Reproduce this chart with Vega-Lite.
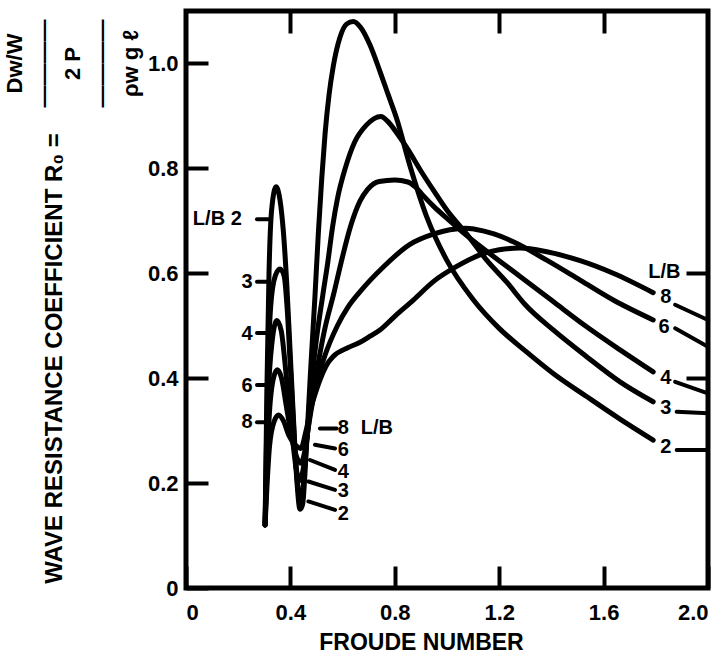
{
  "$schema": "https://vega.github.io/schema/vega-lite/v6.json",
  "width": 522,
  "height": 577,
  "autosize": "none",
  "padding": {"left": 186, "top": 11, "right": 19, "bottom": 71},
  "background": "white",
  "config": {
    "view": {"stroke": "black", "strokeWidth": 5},
    "font": "Liberation Sans",
    "axis": {
      "labelFont": "Liberation Sans", "labelFontWeight": "bold", "labelFontSize": 22, "labelColor": "black",
      "titleFont": "Liberation Sans", "titleFontWeight": "bold", "titleFontSize": 23, "titleColor": "black",
      "domain": false, "grid": false, "tickColor": "black", "tickWidth": 4, "tickSize": -22
    }
  },
  "datasets": {
    "curves": [
      {"LB": "2", "Fr": 0.303, "R": 0.12}, {"LB": "2", "Fr": 0.310, "R": 0.38}, {"LB": "2", "Fr": 0.318, "R": 0.60}, {"LB": "2", "Fr": 0.328, "R": 0.72}, {"LB": "2", "Fr": 0.345, "R": 0.765}, {"LB": "2", "Fr": 0.360, "R": 0.74}, {"LB": "2", "Fr": 0.373, "R": 0.68}, {"LB": "2", "Fr": 0.386, "R": 0.58}, {"LB": "2", "Fr": 0.398, "R": 0.46}, {"LB": "2", "Fr": 0.411, "R": 0.33}, {"LB": "2", "Fr": 0.424, "R": 0.21}, {"LB": "2", "Fr": 0.437, "R": 0.15}, {"LB": "2", "Fr": 0.447, "R": 0.16}, {"LB": "2", "Fr": 0.456, "R": 0.22}, {"LB": "2", "Fr": 0.466, "R": 0.31}, {"LB": "2", "Fr": 0.478, "R": 0.42}, {"LB": "2", "Fr": 0.494, "R": 0.555}, {"LB": "2", "Fr": 0.507, "R": 0.676}, {"LB": "2", "Fr": 0.520, "R": 0.78}, {"LB": "2", "Fr": 0.533, "R": 0.867}, {"LB": "2", "Fr": 0.548, "R": 0.94}, {"LB": "2", "Fr": 0.564, "R": 0.994}, {"LB": "2", "Fr": 0.590, "R": 1.05}, {"LB": "2", "Fr": 0.615, "R": 1.075}, {"LB": "2", "Fr": 0.641, "R": 1.08}, {"LB": "2", "Fr": 0.670, "R": 1.068}, {"LB": "2", "Fr": 0.705, "R": 1.035}, {"LB": "2", "Fr": 0.743, "R": 0.985}, {"LB": "2", "Fr": 0.775, "R": 0.94}, {"LB": "2", "Fr": 0.807, "R": 0.895}, {"LB": "2", "Fr": 0.858, "R": 0.805}, {"LB": "2", "Fr": 0.922, "R": 0.708}, {"LB": "2", "Fr": 0.999, "R": 0.625}, {"LB": "2", "Fr": 1.10, "R": 0.55}, {"LB": "2", "Fr": 1.20, "R": 0.495}, {"LB": "2", "Fr": 1.30, "R": 0.452}, {"LB": "2", "Fr": 1.407, "R": 0.409}, {"LB": "2", "Fr": 1.535, "R": 0.365}, {"LB": "2", "Fr": 1.663, "R": 0.322}, {"LB": "2", "Fr": 1.79, "R": 0.282},
      {"LB": "3", "Fr": 0.303, "R": 0.12}, {"LB": "3", "Fr": 0.312, "R": 0.38}, {"LB": "3", "Fr": 0.325, "R": 0.54}, {"LB": "3", "Fr": 0.342, "R": 0.595}, {"LB": "3", "Fr": 0.360, "R": 0.608}, {"LB": "3", "Fr": 0.376, "R": 0.595}, {"LB": "3", "Fr": 0.388, "R": 0.53}, {"LB": "3", "Fr": 0.400, "R": 0.42}, {"LB": "3", "Fr": 0.412, "R": 0.31}, {"LB": "3", "Fr": 0.425, "R": 0.21}, {"LB": "3", "Fr": 0.437, "R": 0.172}, {"LB": "3", "Fr": 0.448, "R": 0.19}, {"LB": "3", "Fr": 0.458, "R": 0.25}, {"LB": "3", "Fr": 0.470, "R": 0.33}, {"LB": "3", "Fr": 0.485, "R": 0.41}, {"LB": "3", "Fr": 0.500, "R": 0.475}, {"LB": "3", "Fr": 0.524, "R": 0.558}, {"LB": "3", "Fr": 0.543, "R": 0.62}, {"LB": "3", "Fr": 0.562, "R": 0.69}, {"LB": "3", "Fr": 0.581, "R": 0.744}, {"LB": "3", "Fr": 0.610, "R": 0.80}, {"LB": "3", "Fr": 0.645, "R": 0.849}, {"LB": "3", "Fr": 0.690, "R": 0.882}, {"LB": "3", "Fr": 0.747, "R": 0.899}, {"LB": "3", "Fr": 0.772, "R": 0.89}, {"LB": "3", "Fr": 0.807, "R": 0.868}, {"LB": "3", "Fr": 0.849, "R": 0.837}, {"LB": "3", "Fr": 0.900, "R": 0.795}, {"LB": "3", "Fr": 0.951, "R": 0.756}, {"LB": "3", "Fr": 1.0, "R": 0.72}, {"LB": "3", "Fr": 1.075, "R": 0.675}, {"LB": "3", "Fr": 1.152, "R": 0.625}, {"LB": "3", "Fr": 1.229, "R": 0.583}, {"LB": "3", "Fr": 1.30, "R": 0.54}, {"LB": "3", "Fr": 1.407, "R": 0.492}, {"LB": "3", "Fr": 1.535, "R": 0.441}, {"LB": "3", "Fr": 1.663, "R": 0.393}, {"LB": "3", "Fr": 1.79, "R": 0.355},
      {"LB": "4", "Fr": 0.303, "R": 0.12}, {"LB": "4", "Fr": 0.315, "R": 0.36}, {"LB": "4", "Fr": 0.330, "R": 0.47}, {"LB": "4", "Fr": 0.348, "R": 0.51}, {"LB": "4", "Fr": 0.365, "R": 0.49}, {"LB": "4", "Fr": 0.385, "R": 0.40}, {"LB": "4", "Fr": 0.405, "R": 0.30}, {"LB": "4", "Fr": 0.422, "R": 0.228}, {"LB": "4", "Fr": 0.437, "R": 0.205}, {"LB": "4", "Fr": 0.450, "R": 0.23}, {"LB": "4", "Fr": 0.462, "R": 0.28}, {"LB": "4", "Fr": 0.477, "R": 0.34}, {"LB": "4", "Fr": 0.500, "R": 0.41}, {"LB": "4", "Fr": 0.530, "R": 0.49}, {"LB": "4", "Fr": 0.568, "R": 0.565}, {"LB": "4", "Fr": 0.594, "R": 0.62}, {"LB": "4", "Fr": 0.632, "R": 0.692}, {"LB": "4", "Fr": 0.667, "R": 0.738}, {"LB": "4", "Fr": 0.696, "R": 0.76}, {"LB": "4", "Fr": 0.740, "R": 0.775}, {"LB": "4", "Fr": 0.800, "R": 0.778}, {"LB": "4", "Fr": 0.850, "R": 0.774}, {"LB": "4", "Fr": 0.880, "R": 0.764}, {"LB": "4", "Fr": 0.909, "R": 0.748}, {"LB": "4", "Fr": 0.950, "R": 0.727}, {"LB": "4", "Fr": 0.999, "R": 0.705}, {"LB": "4", "Fr": 1.063, "R": 0.677}, {"LB": "4", "Fr": 1.152, "R": 0.642}, {"LB": "4", "Fr": 1.280, "R": 0.594}, {"LB": "4", "Fr": 1.407, "R": 0.546}, {"LB": "4", "Fr": 1.535, "R": 0.498}, {"LB": "4", "Fr": 1.663, "R": 0.454}, {"LB": "4", "Fr": 1.79, "R": 0.412},
      {"LB": "6", "Fr": 0.303, "R": 0.12}, {"LB": "6", "Fr": 0.318, "R": 0.32}, {"LB": "6", "Fr": 0.335, "R": 0.40}, {"LB": "6", "Fr": 0.350, "R": 0.416}, {"LB": "6", "Fr": 0.366, "R": 0.40}, {"LB": "6", "Fr": 0.385, "R": 0.345}, {"LB": "6", "Fr": 0.410, "R": 0.275}, {"LB": "6", "Fr": 0.440, "R": 0.238}, {"LB": "6", "Fr": 0.455, "R": 0.26}, {"LB": "6", "Fr": 0.470, "R": 0.31}, {"LB": "6", "Fr": 0.485, "R": 0.355}, {"LB": "6", "Fr": 0.500, "R": 0.39}, {"LB": "6", "Fr": 0.530, "R": 0.44}, {"LB": "6", "Fr": 0.580, "R": 0.50}, {"LB": "6", "Fr": 0.620, "R": 0.535}, {"LB": "6", "Fr": 0.667, "R": 0.565}, {"LB": "6", "Fr": 0.756, "R": 0.612}, {"LB": "6", "Fr": 0.858, "R": 0.655}, {"LB": "6", "Fr": 0.950, "R": 0.675}, {"LB": "6", "Fr": 1.011, "R": 0.683}, {"LB": "6", "Fr": 1.070, "R": 0.686}, {"LB": "6", "Fr": 1.107, "R": 0.684}, {"LB": "6", "Fr": 1.180, "R": 0.675}, {"LB": "6", "Fr": 1.254, "R": 0.66}, {"LB": "6", "Fr": 1.382, "R": 0.625}, {"LB": "6", "Fr": 1.510, "R": 0.587}, {"LB": "6", "Fr": 1.637, "R": 0.549}, {"LB": "6", "Fr": 1.79, "R": 0.511},
      {"LB": "8", "Fr": 0.303, "R": 0.12}, {"LB": "8", "Fr": 0.320, "R": 0.27}, {"LB": "8", "Fr": 0.338, "R": 0.318}, {"LB": "8", "Fr": 0.355, "R": 0.33}, {"LB": "8", "Fr": 0.372, "R": 0.32}, {"LB": "8", "Fr": 0.395, "R": 0.29}, {"LB": "8", "Fr": 0.420, "R": 0.272}, {"LB": "8", "Fr": 0.440, "R": 0.266}, {"LB": "8", "Fr": 0.460, "R": 0.30}, {"LB": "8", "Fr": 0.480, "R": 0.345}, {"LB": "8", "Fr": 0.500, "R": 0.378}, {"LB": "8", "Fr": 0.520, "R": 0.405}, {"LB": "8", "Fr": 0.545, "R": 0.43}, {"LB": "8", "Fr": 0.565, "R": 0.442}, {"LB": "8", "Fr": 0.620, "R": 0.458}, {"LB": "8", "Fr": 0.665, "R": 0.468}, {"LB": "8", "Fr": 0.705, "R": 0.48}, {"LB": "8", "Fr": 0.743, "R": 0.492}, {"LB": "8", "Fr": 0.800, "R": 0.518}, {"LB": "8", "Fr": 0.871, "R": 0.549}, {"LB": "8", "Fr": 0.950, "R": 0.585}, {"LB": "8", "Fr": 1.037, "R": 0.613}, {"LB": "8", "Fr": 1.126, "R": 0.635}, {"LB": "8", "Fr": 1.200, "R": 0.645}, {"LB": "8", "Fr": 1.280, "R": 0.648}, {"LB": "8", "Fr": 1.382, "R": 0.641}, {"LB": "8", "Fr": 1.510, "R": 0.624}, {"LB": "8", "Fr": 1.637, "R": 0.60}, {"LB": "8", "Fr": 1.79, "R": 0.563}
    ],
    "leaders": [
      {"x1": 0.272, "x2": 0.318, "y1": 0.703, "y2": 0.703},
      {"x1": 0.272, "x2": 0.318, "y1": 0.584, "y2": 0.584},
      {"x1": 0.272, "x2": 0.318, "y1": 0.486, "y2": 0.486},
      {"x1": 0.272, "x2": 0.318, "y1": 0.387, "y2": 0.387},
      {"x1": 0.272, "x2": 0.318, "y1": 0.316, "y2": 0.316},
      {"x1": 0.577, "x2": 0.513, "y1": 0.304, "y2": 0.304},
      {"x1": 0.571, "x2": 0.494, "y1": 0.266, "y2": 0.273},
      {"x1": 0.571, "x2": 0.475, "y1": 0.225, "y2": 0.244},
      {"x1": 0.571, "x2": 0.469, "y1": 0.187, "y2": 0.203},
      {"x1": 0.571, "x2": 0.469, "y1": 0.149, "y2": 0.165},
      {"x1": 1.874, "x2": 2.0, "y1": 0.54, "y2": 0.511},
      {"x1": 1.874, "x2": 2.0, "y1": 0.495, "y2": 0.46},
      {"x1": 1.874, "x2": 2.0, "y1": 0.393, "y2": 0.371},
      {"x1": 1.88, "x2": 2.0, "y1": 0.336, "y2": 0.333},
      {"x1": 1.88, "x2": 2.0, "y1": 0.263, "y2": 0.263}
    ],
    "labels": [
      {"t": "L/B 2", "x": 0.12, "y": 0.703},
      {"t": "3", "x": 0.234, "y": 0.584},
      {"t": "4", "x": 0.234, "y": 0.484},
      {"t": "6", "x": 0.234, "y": 0.386},
      {"t": "8", "x": 0.234, "y": 0.316},
      {"t": "8", "x": 0.603, "y": 0.305},
      {"t": "L/B", "x": 0.731, "y": 0.305},
      {"t": "6", "x": 0.603, "y": 0.263},
      {"t": "4", "x": 0.603, "y": 0.222},
      {"t": "3", "x": 0.603, "y": 0.184},
      {"t": "2", "x": 0.603, "y": 0.142},
      {"t": "L/B", "x": 1.833, "y": 0.602},
      {"t": "8", "x": 1.838, "y": 0.554},
      {"t": "6", "x": 1.832, "y": 0.498},
      {"t": "4", "x": 1.838, "y": 0.401},
      {"t": "3", "x": 1.838, "y": 0.343},
      {"t": "2", "x": 1.838, "y": 0.268}
    ]
  },
  "layer": [
    {
      "data": {"name": "curves"},
      "mark": {"type": "line", "interpolate": "monotone", "stroke": "black", "strokeWidth": 5, "strokeCap": "round", "strokeJoin": "round"},
      "encoding": {
        "x": {"field": "Fr", "type": "quantitative", "scale": {"domain": [0, 2], "nice": false, "zero": false},
              "axis": {"orient": "bottom", "values": [0, 0.4, 0.8, 1.2, 1.6, 2.0], "labelExpr": "datum.value == 0 ? '0' : format(datum.value, '.1f')", "labelFlush": true, "labelPadding": 36, "title": "FROUDE NUMBER", "titleX": 235, "titleY": 54, "titleBaseline": "middle", "titleAlign": "center"}},
        "y": {"field": "R", "type": "quantitative", "scale": {"domain": [0, 1.1], "nice": false, "zero": false},
              "axis": {"orient": "left", "values": [0, 0.2, 0.4, 0.6, 0.8, 1.0], "labelExpr": "datum.value == 0 ? '0' : format(datum.value, '.1f')", "labelPadding": 30, "title": "WAVE RESISTANCE COEFFICIENT R₀ =", "titleFontSize": 24, "titleX": -132, "titleY": 347, "titleAngle": -90, "titleAlign": "center", "titleBaseline": "middle"}},
        "detail": {"field": "LB", "type": "nominal"}
      }
    },
    {
      "data": {"name": "leaders"},
      "mark": {"type": "rule", "stroke": "black", "strokeWidth": 4, "strokeCap": "round"},
      "encoding": {
        "x": {"field": "x1", "type": "quantitative", "scale": {"domain": [0, 2], "nice": false, "zero": false},
              "axis": {"orient": "top", "values": [0.4, 0.8, 1.2, 1.6], "labels": false, "title": null}},
        "x2": {"field": "x2"},
        "y": {"field": "y1", "type": "quantitative", "scale": {"domain": [0, 1.1], "nice": false, "zero": false},
              "axis": {"orient": "right", "values": [0.4, 0.6], "labels": false, "title": null}},
        "y2": {"field": "y2"}
      }
    },
    {
      "data": {"name": "labels"},
      "mark": {"type": "text", "font": "Liberation Sans", "fontWeight": "bold", "fontSize": 20, "fill": "black", "align": "center", "baseline": "middle"},
      "encoding": {
        "x": {"field": "x", "type": "quantitative", "scale": {"domain": [0, 2], "nice": false, "zero": false}, "axis": null},
        "y": {"field": "y", "type": "quantitative", "scale": {"domain": [0, 1.1], "nice": false, "zero": false},
              "axis": {"orient": "left", "labels": false, "ticks": false, "domain": false, "title": ["Dw/W", "————", "2  P", "————", "ρw g ℓ"], "titleFontSize": 22, "titleLineHeight": 29, "titleX": -182, "titleY": 52, "titleAngle": -90, "titleAlign": "center", "titleBaseline": "top"}},
        "text": {"field": "t"}
      }
    }
  ],
  "resolve": {"axis": {"x": "independent", "y": "independent"}}
}
